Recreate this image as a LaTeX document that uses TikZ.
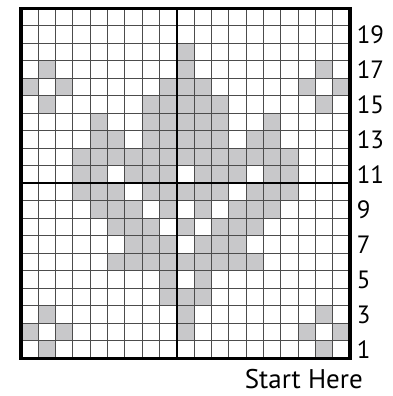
\documentclass[tikz,border=0pt]{standalone}
\usepackage{fontspec}
\setmainfont{PT Sans}
\usepackage{tikz}
\definecolor{cellgray}{RGB}{200,200,202}

\begin{document}
\begin{tikzpicture}[
  x=17.32pt,y=17.51pt,
  cell/.style={fill=cellgray},
  thinline/.style={draw=black!70,line width=1pt},
  tenline/.style={draw=black,line width=2pt},
  border/.style={draw=black,line width=3.2pt},
  rowlbl/.style={font=\fontsize{25}{28}\selectfont,anchor=west,inner sep=0pt,xshift=6.5pt},
  startlbl/.style={font=\fontsize{27}{30}\selectfont,inner sep=0pt,text depth=0pt},
]
\useasboundingbox (-21pt,-37.5pt) rectangle (372pt,358.5pt);

% shaded stitches, row by row from the bottom
\foreach \r/\cols in {1/{2,18}, 2/{1,3,10,17,19}, 3/{2,10,18}, 4/{9,10,11},
    5/{9,11}, 6/{6,7,8,9,10,11,12,13,14}, 7/{7,8,9,11,12,13},
    8/{6,7,8,10,12,13,14}, 9/{5,6,7,9,11,13,14,15},
    10/{4,5,6,8,9,10,11,12,14,15,16}, 11/{4,5,7,8,9,11,12,13,15,16},
    12/{4,5,6,7,8,9,10,11,12,13,14,15,16}, 13/{5,6,8,9,10,11,12,14,15},
    14/{5,8,9,10,11,12,15}, 15/{2,8,9,10,11,12,18},
    16/{1,3,9,10,11,17,19}, 17/{2,10,18}, 18/{10}}
  \foreach \c in \cols
    \fill[cell] (\c-1,\r-1) rectangle (\c,\r);

% grid lines
\foreach \i in {1,...,18}
  \draw[thinline] (\i,0) -- (\i,20);
\foreach \j in {1,...,19}
  \draw[thinline] (0,\j) -- (19,\j);
\draw[tenline] (9,0) -- (9,20);
\draw[tenline] (0,10) -- (19,10);
\draw[border] (0,0) rectangle (19,20);

% row numbers
\foreach \r in {1,3,...,19}
  \node[rowlbl] (row\r) at (19,\r-0.5) {\r};

\node[startlbl,anchor=base east,xshift=13pt,yshift=-30.5pt] (start) at (19,0) {Start Here};
\end{tikzpicture}
\end{document}
